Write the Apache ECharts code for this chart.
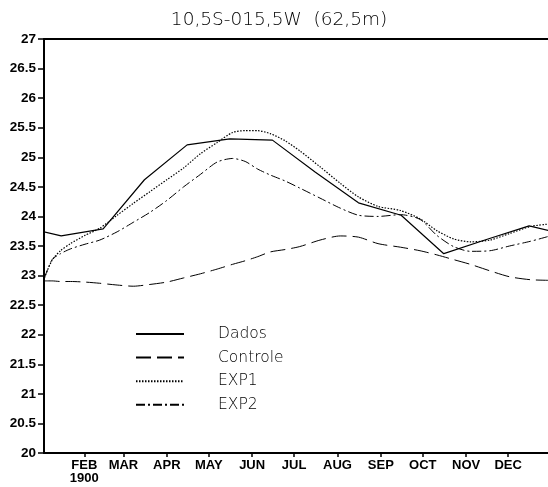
<!DOCTYPE html>
<html>
<head>
<meta charset="utf-8">
<script src="https://cdn.jsdelivr.net/npm/echarts@6/dist/echarts.min.js"></script>
<style>
  html, body { margin: 0; padding: 0; background: #ffffff; }
  #chart { width: 548px; height: 487px; }
</style>
</head>
<body>
<div id="chart"></div>
<script>
// Month labels and the day-of-year on which each month begins
const monthNames = ['JAN', 'FEB', 'MAR', 'APR', 'MAY', 'JUN', 'JUL', 'AUG', 'SEP', 'OCT', 'NOV', 'DEC'];
const monthStartDays = [0, 31, 59, 90, 120, 151, 181, 212, 243, 273, 304, 334];
const yearLabel = '1900';

// Observed monthly means (mid-month), temperature in degC
const obsDays = [14.5, 44.5, 74, 104.5, 135, 165.5, 196, 227, 257.5, 288, 318.5, 349];
const dados = [23.67, 23.79, 24.62, 25.21, 25.31, 25.29, 24.75, 24.23, 24.02, 23.37, 23.61, 23.84];

// Model output, sampled along the year
const modelDays = [2.5, 8, 14, 21, 31.5, 42, 54.5, 66, 78, 90, 102, 114, 126, 137, 146, 155,
                   164, 174.5, 185, 199.5, 214, 227, 241, 257, 271, 283, 295, 307, 321, 335, 350, 362.5];
const controle = [22.91, 22.91, 22.90, 22.90, 22.89, 22.87, 22.84, 22.82, 22.85, 22.89, 22.96, 23.03,
                  23.11, 23.19, 23.25, 23.32, 23.40, 23.44, 23.49, 23.60, 23.67, 23.65, 23.54, 23.48,
                  23.42, 23.35, 23.27, 23.19, 23.08, 22.98, 22.93, 22.92];
const exp1 = [22.96, 23.26, 23.42, 23.54, 23.68, 23.80, 24.02, 24.22, 24.42, 24.62, 24.82, 25.06,
              25.25, 25.42, 25.45, 25.45, 25.40, 25.28, 25.11, 24.84, 24.56, 24.33, 24.17, 24.10,
              23.96, 23.76, 23.62, 23.57, 23.60, 23.71, 23.83, 23.87];
const exp2 = [22.96, 23.27, 23.37, 23.45, 23.53, 23.60, 23.74, 23.90, 24.07, 24.27, 24.50, 24.71,
              24.92, 24.98, 24.93, 24.80, 24.70, 24.60, 24.48, 24.31, 24.14, 24.02, 24.00, 24.03,
              23.95, 23.68, 23.49, 23.41, 23.42, 23.50, 23.58, 23.66];

const titleText = '10,5S-015,5W  (62,5m)';
const seriesNames = ['Dados', 'Controle', 'EXP1', 'EXP2'];

// The observed climatology is cyclic: repeat December before January and January after December
const dadosPoints = [[obsDays[11] - 365, dados[11]]]
  .concat(obsDays.map((d, i) => [d, dados[i]]))
  .concat([[obsDays[0] + 365, dados[0]]]);
const pairs = (vals) => modelDays.map((d, i) => [d, vals[i]]);

const xMin = 2.2, xMax = 362.5;
const tickFont = { fontFamily: '"Liberation Sans", Arial, sans-serif', fontWeight: 'bold', fontSize: 13, color: '#000' };
const thinFont = 'DejaVu Sans';

const chart = echarts.init(document.getElementById('chart'), null, { renderer: 'canvas' });

chart.setOption({
  animation: false,
  backgroundColor: '#ffffff',
  graphic: [{
    type: 'text',
    x: 279, y: 20,
    style: {
      text: titleText,
      font: '200 18.5px "' + thinFont + '"',
      fill: '#000',
      align: 'center',
      verticalAlign: 'middle'
    }
  }],
  grid: { left: 44, right: 0, top: 39, bottom: 34, containLabel: false },
  legend: {
    orient: 'vertical',
    left: 135,
    top: 326,
    padding: 0,
    itemWidth: 48,
    itemHeight: 14,
    itemGap: 7.6,
    data: seriesNames,
    itemStyle: { opacity: 0 },
    textStyle: { fontFamily: thinFont, fontWeight: 200, fontSize: 15.5, color: '#000', lineHeight: 14, padding: [0, 0, 0, 29] }
  },
  xAxis: [{
    type: 'value',
    min: xMin,
    max: xMax,
    position: 'bottom',
    splitLine: { show: false },
    axisLine: { show: true, lineStyle: { color: '#000', width: 2 } },
    axisTick: { show: true, inside: false, length: 4, customValues: monthStartDays.slice(1), lineStyle: { color: '#000', width: 1.5 } },
    axisLabel: {
      show: true,
      customValues: monthStartDays.slice(1),
      margin: 6,
      ...tickFont,
      lineHeight: 13,
      formatter: (v) => {
        const i = monthStartDays.indexOf(v);
        return i === 1 ? monthNames[i] + '\n' + yearLabel : monthNames[i];
      }
    }
  }, {
    type: 'value',
    min: xMin,
    max: xMax,
    position: 'top',
    splitLine: { show: false },
    axisLine: { show: true, lineStyle: { color: '#000', width: 2 } },
    axisTick: { show: false },
    axisLabel: { show: false }
  }],
  yAxis: {
    type: 'value',
    min: 20,
    max: 27,
    interval: 0.5,
    splitLine: { show: false },
    axisLine: { show: true, lineStyle: { color: '#000', width: 2 } },
    axisTick: { show: true, inside: false, length: 6, lineStyle: { color: '#000', width: 1.5 } },
    axisLabel: { margin: 8, ...tickFont, fontSize: 13.5 }
  },
  series: [{
    name: 'Dados',
    type: 'line',
    data: dadosPoints,
    symbol: 'none',
    clip: true,
    lineStyle: { color: '#000', width: 1.2, type: 'solid' },
    itemStyle: { color: '#000' }
  }, {
    name: 'Controle',
    type: 'line',
    data: pairs(controle),
    symbol: 'none',
    smooth: 0.25,
    clip: true,
    lineStyle: { color: '#000', width: 1, type: [15, 6] },
    itemStyle: { color: '#000' }
  }, {
    name: 'EXP1',
    type: 'line',
    data: pairs(exp1),
    symbol: 'none',
    smooth: 0.25,
    clip: true,
    lineStyle: { color: '#000', width: 1.2, type: [1.5, 1.5] },
    itemStyle: { color: '#000' }
  }, {
    name: 'EXP2',
    type: 'line',
    data: pairs(exp2),
    symbol: 'none',
    smooth: 0.25,
    clip: true,
    lineStyle: { color: '#000', width: 1, type: [9, 3, 2, 3] },
    itemStyle: { color: '#000' }
  }]
});
</script>
</body>
</html>
